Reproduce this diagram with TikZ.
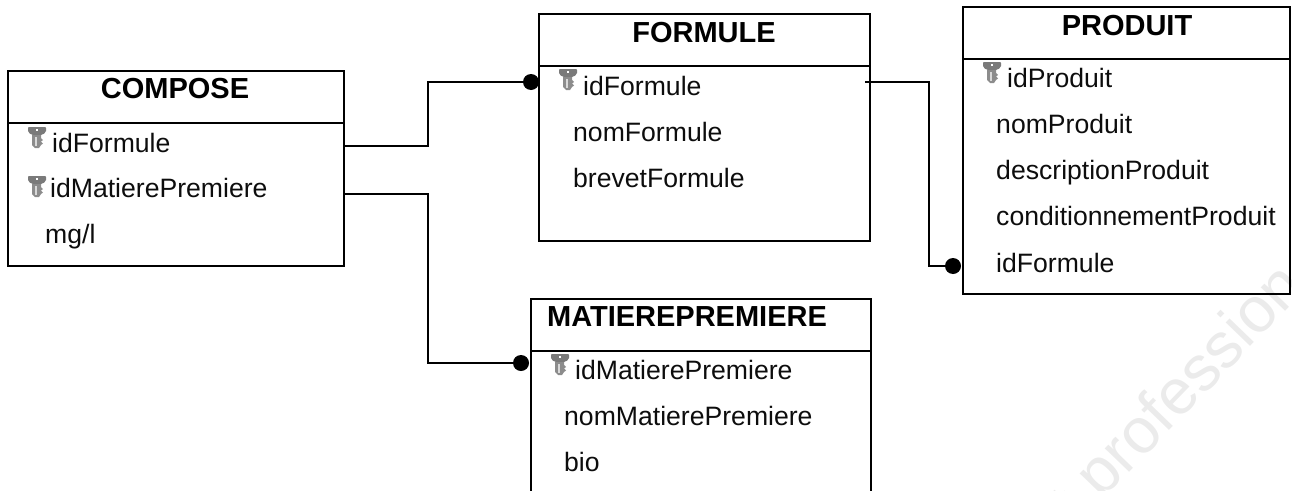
\documentclass[tikz,border=0pt]{standalone}
\usepackage{fontspec}
\setmainfont{Liberation Sans}
\usetikzlibrary{positioning,calc}
\tikzset{
	tablebox/.style={draw,line width=2pt,inner sep=0pt,outer sep=0pt,fill=none},
	tabletitle/.style={anchor=base,inner sep=0pt,font=\fontsize{29}{32}\selectfont\bfseries},
	rowtext/.style={anchor=base west,inner sep=0pt,font=\fontsize{26.6}{30}\selectfont,text=black!95},
	divider/.style={line width=2pt},
	link/.style={line width=2pt},
	dot/.style={circle,fill=black,inner sep=0pt,minimum size=16pt},
	watermark/.style={inner sep=0pt,text=black!8,rotate=46,font=\fontsize{64}{68}\selectfont},
	keyicon/.pic={
		\fill[white] (-6,-2.5) rectangle (25,0);
		\fill[black!52] (0,1) .. controls (0,0) and (1,0) .. (2,0) -- (16,0) .. controls (17,0) and (18,0) .. (18,1) -- (18,4) .. controls (18,6) and (15,7.5) .. (13,8) -- (5,8) .. controls (3,7.5) and (0,6) .. (0,4) -- cycle;
		\fill[black!45] (4,8) -- (13,8) -- (13,11) -- (15,13) -- (13,14.5) -- (15,16.5) -- (13,18) -- (11,21) -- (7,21) -- (4,18) -- cycle;
		\fill[white] (8,2) rectangle (10,3.5);
		\fill[black!15] (7,10) rectangle (9,19);
	}
}
\begin{document}
\begin{tikzpicture}[x=1pt,y=-1pt]
		\clip (0,0) rectangle (1292,490);
		% watermark
		\node[watermark] (mark) at (1180,396) {t profession};
		% tables
		\node[tablebox,minimum width=336pt,minimum height=195pt] (compose) at (176,168.5) {};
		\node[tablebox,minimum width=331pt,minimum height=227pt] (formule) at (704.5,127.5) {};
		\node[tablebox,minimum width=327pt,minimum height=287pt] (produit) at (1126.5,150.5) {};
		\node[tablebox,minimum width=340pt,minimum height=211pt] (matiere) at (701,404.5) {};
		\draw[divider] (compose.west |- 0,123) -- (compose.east |- 0,123);
		\draw[divider] (formule.west |- 0,66) -- (formule.east |- 0,66);
		\draw[divider] (produit.west |- 0,59) -- (produit.east |- 0,59);
		\draw[divider] (matiere.west |- 0,351) -- (matiere.east |- 0,351);
		% titles
		\node[tabletitle] (composeT) at (175,98) {COMPOSE};
		\node[tabletitle] (formuleT) at (704,42) {FORMULE};
		\node[tabletitle] (produitT) at (1127,35) {PRODUIT};
		\node[tabletitle] (matiereT) at (687,326) {MATIEREPREMIERE};
		% keys
		\pic at (28,127) {keyicon};
		\pic at (28,176) {keyicon};
		\pic at (559,69) {keyicon};
		\pic at (983,62) {keyicon};
		\pic at (551,354) {keyicon};
		% rows
		\node[rowtext] (cIdFormule) at (52,152) {idFormule};
		\node[rowtext] (cIdMatiere) at (50,197) {idMatierePremiere};
		\node[rowtext] (cMgl) at (45,243) {mg/l};
		\node[rowtext] (fIdFormule) at (583,95) {idFormule};
		\node[rowtext] (fNom) at (573,141) {nomFormule};
		\node[rowtext] (fBrevet) at (573,187) {brevetFormule};
		\node[rowtext] (pIdProduit) at (1007,87) {idProduit};
		\node[rowtext] (pNom) at (996,133) {nomProduit};
		\node[rowtext] (pDescription) at (996,179) {descriptionProduit};
		\node[rowtext] (pConditionnement) at (996,225) {conditionnementProduit};
		\node[rowtext] (pIdFormule) at (996,272) {idFormule};
		\node[rowtext] (mIdMatiere) at (575,379) {idMatierePremiere};
		\node[rowtext] (mNom) at (564,425) {nomMatierePremiere};
		\node[rowtext] (mBio) at (564,471) {bio};
		% links
		\node[dot] (dotFormule) at (531,82) {};
		\node[dot] (dotMatiere) at (521,363) {};
		\node[dot] (dotProduit) at (953,266) {};
		\coordinate (startFormule) at (345,146);
		\coordinate (startMatiere) at (345,194);
		\coordinate (startProduit) at (865,82);
		\coordinate (elbowLeft) at (428,0);
		\coordinate (elbowRight) at (929,0);
		\draw[link] (startFormule) -- (startFormule -| elbowLeft) -- (elbowLeft |- dotFormule) -- (dotFormule);
		\draw[link] (startMatiere) -- (startMatiere -| elbowLeft) -- (elbowLeft |- dotMatiere) -- (dotMatiere);
		\draw[link] (startProduit) -- (startProduit -| elbowRight) -- (elbowRight |- dotProduit) -- (dotProduit);
		\end{tikzpicture}
\end{document}
